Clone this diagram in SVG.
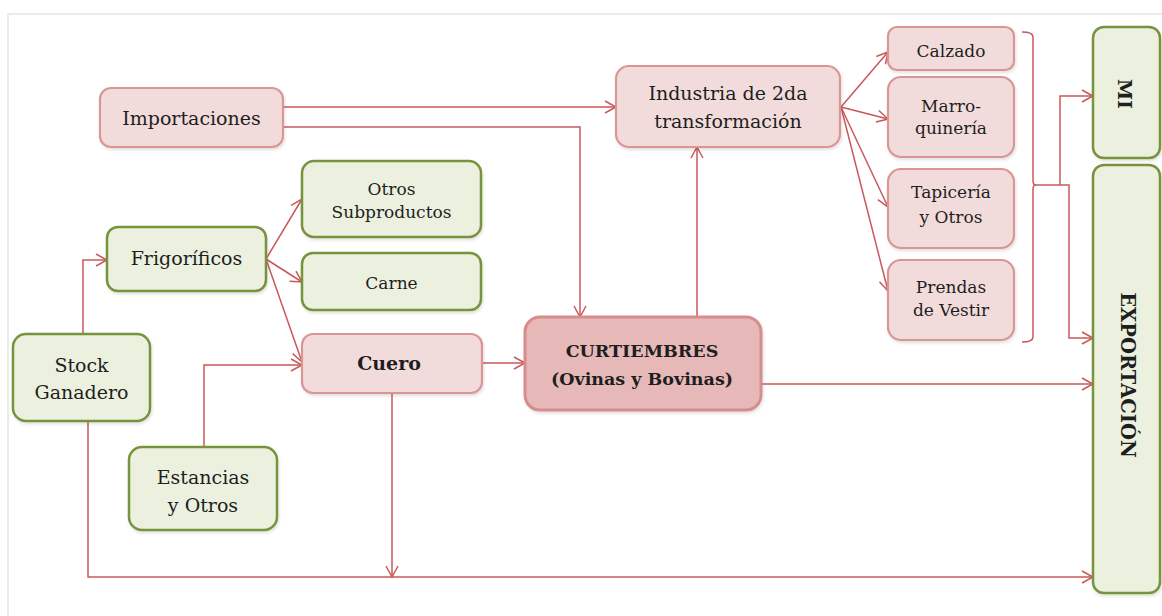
<svg xmlns="http://www.w3.org/2000/svg" width="1162" height="616" viewBox="0 0 1162 616">
  <defs>
    <marker id="arrow" markerUnits="userSpaceOnUse" markerWidth="14" markerHeight="14" viewBox="0 0 14 14" refX="12" refY="7" orient="auto">
      <path d="M1,1 L12,7 L1,13" fill="none" stroke="#c9585a" stroke-width="1.5"/>
    </marker>
    <filter id="shadow" x="-10%" y="-10%" width="130%" height="140%">
      <feDropShadow dx="1" dy="2" stdDeviation="1.5" flood-color="#000" flood-opacity="0.12"/>
    </filter>
  </defs>
  <style>
    .frame { fill: none; stroke: #ecece6; stroke-width: 2; }
    .green rect { fill: #ebf1de; stroke: #77933c; stroke-width: 2.5; filter: url(#shadow); }
    .pink rect { fill: #f2dcdb; stroke: #d99694; stroke-width: 2.2; filter: url(#shadow); }
    .main rect { fill: #e6b9b8; stroke: #d68d8c; stroke-width: 3; filter: url(#shadow); }
    text { font-family: "DejaVu Serif", "Liberation Serif", serif; fill: #1e1e1e; text-anchor: middle; }
    .t19 { font-size: 19px; }
    .t17 { font-size: 17px; }
    .t175 { font-size: 17.5px; }
    .b { font-weight: bold; }
    .conn path { fill: none; stroke: #c9585a; stroke-width: 1.5; }
  </style>

  <rect class="frame" x="8" y="14" width="1170" height="620"/>

  <!-- connectors -->
  <g id="connectors" class="conn">
    <path d="M283,107 H616" marker-end="url(#arrow)"/>
    <path d="M283,127 H580 V317" marker-end="url(#arrow)"/>
    <path d="M83,334 V260 H107" marker-end="url(#arrow)"/>
    <path d="M266,259 L302,199" marker-end="url(#arrow)"/>
    <path d="M266,259 L302,282" marker-end="url(#arrow)"/>
    <path d="M266,259 L302,362" marker-end="url(#arrow)"/>
    <path d="M204,447 V365 H302" marker-end="url(#arrow)"/>
    <path d="M482,363 H525" marker-end="url(#arrow)"/>
    <path d="M392,393 V577" marker-end="url(#arrow)"/>
    <path d="M88,421 V577 H1093" marker-end="url(#arrow)"/>
    <path d="M697,317 V147" marker-end="url(#arrow)"/>
    <path d="M761,384 H1093" marker-end="url(#arrow)"/>
    <path d="M841,107 L888,52" marker-end="url(#arrow)"/>
    <path d="M841,107 L888,119" marker-end="url(#arrow)"/>
    <path d="M841,107 L888,207" marker-end="url(#arrow)"/>
    <path d="M841,107 L888,291" marker-end="url(#arrow)"/>
    <path d="M1022,32 Q1033,32 1033,37 V181 Q1033,185 1036,185 Q1033,185 1033,189 V337 Q1033,342 1022,342"/>
    <path d="M1036,185 H1069 V338 H1093" marker-end="url(#arrow)"/>
    <path d="M1060,185 V96 H1093" marker-end="url(#arrow)"/>
  </g>

  <!-- nodes -->
  <g id="importaciones" class="pink">
    <rect x="100" y="88" width="183" height="59" rx="11"/>
    <text class="t19" x="191.5" y="125">Importaciones</text>
  </g>
  <g id="otros-subproductos" class="green">
    <rect x="302" y="161" width="179" height="76" rx="12"/>
    <text class="t17" x="391.5" y="195">Otros</text>
    <text class="t17" x="391.5" y="218">Subproductos</text>
  </g>
  <g id="frigorificos" class="green">
    <rect x="107" y="227" width="159" height="64" rx="11"/>
    <text class="t19" x="186.5" y="265">Frigoríficos</text>
  </g>
  <g id="carne" class="green">
    <rect x="302" y="253" width="179" height="57" rx="11"/>
    <text class="t17" x="391.5" y="289">Carne</text>
  </g>
  <g id="cuero" class="pink">
    <rect x="302" y="334" width="180" height="59" rx="11"/>
    <text class="t19 b" x="389" y="370">Cuero</text>
  </g>
  <g id="stock-ganadero" class="green">
    <rect x="13" y="334" width="137" height="87" rx="13"/>
    <text class="t19" x="81.5" y="372">Stock</text>
    <text class="t19" x="81.5" y="399">Ganadero</text>
  </g>
  <g id="estancias" class="green">
    <rect x="129" y="447" width="148" height="83" rx="13"/>
    <text class="t19" x="203" y="484">Estancias</text>
    <text class="t19" x="203" y="512">y Otros</text>
  </g>
  <g id="curtiembres" class="main">
    <rect x="525" y="317" width="236" height="93" rx="15"/>
    <text class="t175 b" x="642" y="357">CURTIEMBRES</text>
    <text class="t175 b" x="642" y="385">(Ovinas y Bovinas)</text>
  </g>
  <g id="industria" class="pink">
    <rect x="616" y="66" width="224" height="81" rx="13"/>
    <text class="t19" x="728" y="100">Industria de 2da</text>
    <text class="t19" x="728" y="128">transformación</text>
  </g>
  <g id="calzado" class="pink">
    <rect x="888" y="27" width="126" height="43" rx="9"/>
    <text class="t17" x="951" y="57">Calzado</text>
  </g>
  <g id="marroquineria" class="pink">
    <rect x="888" y="77" width="126" height="80" rx="13"/>
    <text class="t17" x="951" y="112">Marro-</text>
    <text class="t17" x="951" y="134">quinería</text>
  </g>
  <g id="tapiceria" class="pink">
    <rect x="888" y="169" width="126" height="79" rx="13"/>
    <text class="t17" x="951" y="198">Tapicería</text>
    <text class="t17" x="951" y="223">y Otros</text>
  </g>
  <g id="prendas" class="pink">
    <rect x="888" y="260" width="126" height="80" rx="13"/>
    <text class="t17" x="951" y="293">Prendas</text>
    <text class="t17" x="951" y="316">de Vestir</text>
  </g>
  <g id="mi" class="green">
    <rect x="1093" y="27" width="67" height="131" rx="11"/>
    <text class="t19 b" x="0" y="0" dominant-baseline="central" transform="translate(1125,94) rotate(90)">MI</text>
  </g>
  <g id="exportacion" class="green">
    <rect x="1093" y="165" width="67" height="428" rx="11"/>
    <text class="b" font-size="19.5" x="0" y="0" dominant-baseline="central" transform="translate(1127,375) rotate(90)">EXPORTACIÓN</text>
  </g>
</svg>
